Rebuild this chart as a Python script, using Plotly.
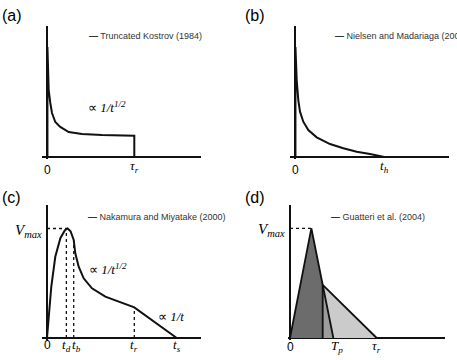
import plotly.graph_objects as go

W, H = 457, 360

# ---------------- data (normalised time / slip-rate units) ----------
# (a) Truncated Kostrov (1984): time in units of tau_r, rate in units of the spike peak
a_t = [0.0, 0.005, 0.005, 0.010, 0.015, 0.0195, 0.0378, 0.0573, 0.095, 0.152, 0.249, 0.401, 0.630, 0.859, 1.0, 1.0]
a_v = [0.0, 0.0, 1.0, 0.90, 0.79, 0.609, 0.491, 0.400, 0.318, 0.273, 0.227, 0.209, 0.200, 0.197, 0.194, 0.0]
a_tau_r = 1.0

# (b) Nielsen and Madariaga (2003): time in units of t_h
b_t = [0.0, 0.005, 0.005, 0.010, 0.019, 0.037, 0.056, 0.093, 0.149, 0.243, 0.392, 0.541, 0.691, 0.840, 0.952, 1.0]
b_v = [0.0, 0.0, 1.0, 0.88, 0.70, 0.518, 0.412, 0.321, 0.245, 0.179, 0.118, 0.079, 0.048, 0.027, 0.009, 0.0]
b_t_h = 1.0

# (c) Nakamura and Miyatake (2000): time in units of t_r, rate in units of V_max
c_t = [0.0, 0.019, 0.049, 0.095, 0.153, 0.205, 0.237, 0.270, 0.306, 0.324, 0.363, 0.420, 0.515, 0.668, 0.859, 1.0, 1.486]
c_v = [0.0, 0.164, 0.468, 0.742, 0.911, 0.985, 1.0, 0.975, 0.895, 0.774, 0.651, 0.545, 0.454, 0.377, 0.317, 0.280, 0.0]
c_t_d, c_t_b, c_t_r, c_t_s = 0.222, 0.306, 1.0, 1.486
c_v_peak, c_v_tb, c_v_tr = 1.0, 0.895, 0.280
c_t_peak = 0.237

# (d) Guatteri et al. (2004): time in units of tau_r, rate in units of V_max
d_t_peak, d_T_p, d_t_1, d_tau_r = 0.246, 0.50, 0.377, 1.0
d_v_max = 1.0

# ---------------- figure ----------------
fig = go.Figure()

BLACK = "#111111"

def px_x(p):
    return p / W

def px_y(p):
    return 1 - p / H

# axes layout: domain in pixels, data origin pixel, scale px/unit
panels = {
    # name: (xdom px, ydom px, x0 px, y0 px, xscale, yscale)
    "1": ((42, 201), (26, 159), 47, 157, 87.3, 110.0),
    "2": ((290, 449), (26, 159), 295, 157, 89.3, 110.0),
    "3": ((42, 201), (205, 340), 47, 338, 87.3, 109.5),
    "4": ((288, 445), (205, 340), 290, 338, 86.7, 109.7),
}

layout_axes = {}
for k, (xd, yd, x0, y0, sx, sy) in panels.items():
    xname = "xaxis" if k == "1" else f"xaxis{k}"
    yname = "yaxis" if k == "1" else f"yaxis{k}"
    layout_axes[xname] = dict(
        domain=[px_x(xd[0]), px_x(xd[1])],
        range=[(xd[0] - x0) / sx, (xd[1] - x0) / sx],
        anchor="y" if k == "1" else f"y{k}",
        showgrid=False, showticklabels=False, ticks="", showline=False,
        zeroline=True, zerolinecolor=BLACK, zerolinewidth=2, fixedrange=True,
    )
    layout_axes[yname] = dict(
        domain=[px_y(yd[1]), px_y(yd[0])],
        range=[(y0 - yd[1]) / sy, (y0 - yd[0]) / sy],
        anchor="x" if k == "1" else f"x{k}",
        showgrid=False, showticklabels=False, ticks="", showline=False,
        zeroline=True, zerolinecolor=BLACK, zerolinewidth=2, fixedrange=True,
    )

line_style = dict(color=BLACK, width=2)
dot_style = dict(color=BLACK, width=1.3, dash="dot")

# (a)
fig.add_trace(go.Scatter(x=a_t, y=a_v, mode="lines", line=line_style, xaxis="x", yaxis="y",
                         name="Truncated Kostrov (1984)", showlegend=False))
# (b)
fig.add_trace(go.Scatter(x=b_t, y=b_v, mode="lines", line=line_style, xaxis="x2", yaxis="y2",
                         name="Nielsen and Madariaga (2003)", showlegend=False))
# (c)
fig.add_trace(go.Scatter(x=[0, c_t_peak], y=[c_v_peak, c_v_peak], mode="lines", line=dot_style,
                         xaxis="x3", yaxis="y3", showlegend=False))
fig.add_trace(go.Scatter(x=[c_t_d, c_t_d], y=[0, 0.99], mode="lines", line=dot_style,
                         xaxis="x3", yaxis="y3", showlegend=False))
fig.add_trace(go.Scatter(x=[c_t_b, c_t_b], y=[0, c_v_tb], mode="lines", line=dot_style,
                         xaxis="x3", yaxis="y3", showlegend=False))
fig.add_trace(go.Scatter(x=[c_t_r, c_t_r], y=[0, c_v_tr], mode="lines", line=dot_style,
                         xaxis="x3", yaxis="y3", showlegend=False))
fig.add_trace(go.Scatter(x=c_t, y=c_v, mode="lines", line=line_style, xaxis="x3", yaxis="y3",
                         name="Nakamura and Miyatake (2000)", showlegend=False))

# (d) triangles
h1 = d_v_max * (d_T_p - d_t_1) / (d_T_p - d_t_peak)  # light apex on dark right edge
DARK, MID, LIGHT = "#6c6c6c", "#9c9c9c", "#cbcbcb"
fig.add_trace(go.Scatter(x=[0, d_t_peak, d_t_1, d_t_1, 0], y=[0, d_v_max, h1, 0, 0],
                         fill="toself", fillcolor=DARK, mode="none",
                         xaxis="x4", yaxis="y4", showlegend=False))
fig.add_trace(go.Scatter(x=[d_t_1, d_T_p, d_t_1, d_t_1], y=[h1, 0, 0, h1],
                         fill="toself", fillcolor=MID, mode="none",
                         xaxis="x4", yaxis="y4", showlegend=False))
fig.add_trace(go.Scatter(x=[d_t_1, d_tau_r, d_T_p, d_t_1], y=[h1, 0, 0, h1],
                         fill="toself", fillcolor=LIGHT, mode="none",
                         xaxis="x4", yaxis="y4", showlegend=False))
fig.add_trace(go.Scatter(x=[0, d_t_peak, d_T_p], y=[0, d_v_max, 0], mode="lines",
                         line=dict(color=BLACK, width=1.8), xaxis="x4", yaxis="y4",
                         name="Guatteri et al. (2004)", showlegend=False))
fig.add_trace(go.Scatter(x=[d_t_1, d_t_1, d_tau_r], y=[0, h1, 0], mode="lines",
                         line=dict(color=BLACK, width=1.8), xaxis="x4", yaxis="y4", showlegend=False))
fig.add_trace(go.Scatter(x=[0, d_t_peak], y=[d_v_max, d_v_max], mode="lines", line=dot_style,
                         xaxis="x4", yaxis="y4", showlegend=False))

# ---------------- text ----------------
SANS = "Liberation Sans, Arial, sans-serif"
SERIF = "Liberation Serif, Times New Roman, serif"
ann = []

def panel_label(txt, xp, yp):
    ann.append(dict(text=txt, x=px_x(xp), y=px_y(yp), xref="paper", yref="paper",
                    xanchor="left", yanchor="middle", showarrow=False,
                    font=dict(family=SANS, size=16, color="#000")))

panel_label("(a)", 0, 16)
panel_label("(b)", 243, 16)
panel_label("(c)", 0, 197)
panel_label("(d)", 243, 197)

def legend(txt, xp, yp):
    ann.append(dict(text="<b>\u2014</b> " + txt, x=px_x(xp), y=px_y(yp), xref="paper", yref="paper",
                    xanchor="left", yanchor="middle", showarrow=False,
                    font=dict(family=SANS, size=9, color="#333")))

legend("Truncated Kostrov (1984)", 87, 36)
legend("Nielsen and Madariaga (2003)", 333, 36)
legend("Nakamura and Miyatake (2000)", 86, 217)
legend("Guatteri et al. (2004)", 329, 217)

def xlabel(txt, x, xr, yr, shift, serif=True, size=13):
    ann.append(dict(text=txt, x=x, y=0, xref=xr, yref=yr, xanchor="center", yanchor="middle",
                    yshift=shift, showarrow=False,
                    font=dict(family=SERIF if serif else SANS, size=size, color="#000")))

xlabel("0", 0, "x", "y", -13, serif=False, size=12)
xlabel("<i>\u03c4<sub>r</sub></i>", a_tau_r, "x", "y", -9)
xlabel("0", 0, "x2", "y2", -13, serif=False, size=12)
xlabel("<i>t<sub>h</sub></i>", b_t_h, "x2", "y2", -9)
xlabel("0", 0, "x3", "y3", -7, serif=False, size=12)
xlabel("<i>t<sub>d</sub></i>", c_t_d, "x3", "y3", -7)
xlabel("<i>t<sub>b</sub></i>", c_t_b + 0.03, "x3", "y3", -7)
xlabel("<i>t<sub>r</sub></i>", c_t_r, "x3", "y3", -7)
xlabel("<i>t<sub>s</sub></i>", c_t_s, "x3", "y3", -7)
xlabel("0", 0, "x4", "y4", -9, serif=False, size=12)
xlabel("<i>T<sub>p</sub></i>", d_T_p + 0.04, "x4", "y4", -8)
xlabel("<i>\u03c4<sub>r</sub></i>", d_tau_r, "x4", "y4", -8)

def vmax(xr, yr):
    ann.append(dict(text="<i>V<sub>max</sub></i>", x=0, y=1.0, xref=xr, yref=yr,
                    xanchor="right", yanchor="middle", xshift=-3, yshift=-2, showarrow=False,
                    font=dict(family=SERIF, size=15, color="#000")))

vmax("x3", "y3")
vmax("x4", "y4")

def note(txt, xp, yp, size=13):
    ann.append(dict(text=txt, x=px_x(xp), y=px_y(yp), xref="paper", yref="paper",
                    xanchor="left", yanchor="middle", showarrow=False,
                    font=dict(family=SERIF, size=size, color="#000")))

note("\u221d <i>1/t</i><sup><i>1/2</i></sup>", 86, 107)
note("\u221d <i>1/t</i><sup><i>1/2</i></sup>", 87, 269)
note("\u221d <i>1/t</i>", 156, 316)

fig.update_layout(
    width=W, height=H, autosize=False,
    margin=dict(l=0, r=0, t=0, b=0, pad=0),
    paper_bgcolor="white", plot_bgcolor="white",
    showlegend=False,
    annotations=ann,
    **layout_axes,
)

fig.write_html("out.html", config=dict(displayModeBar=False))
